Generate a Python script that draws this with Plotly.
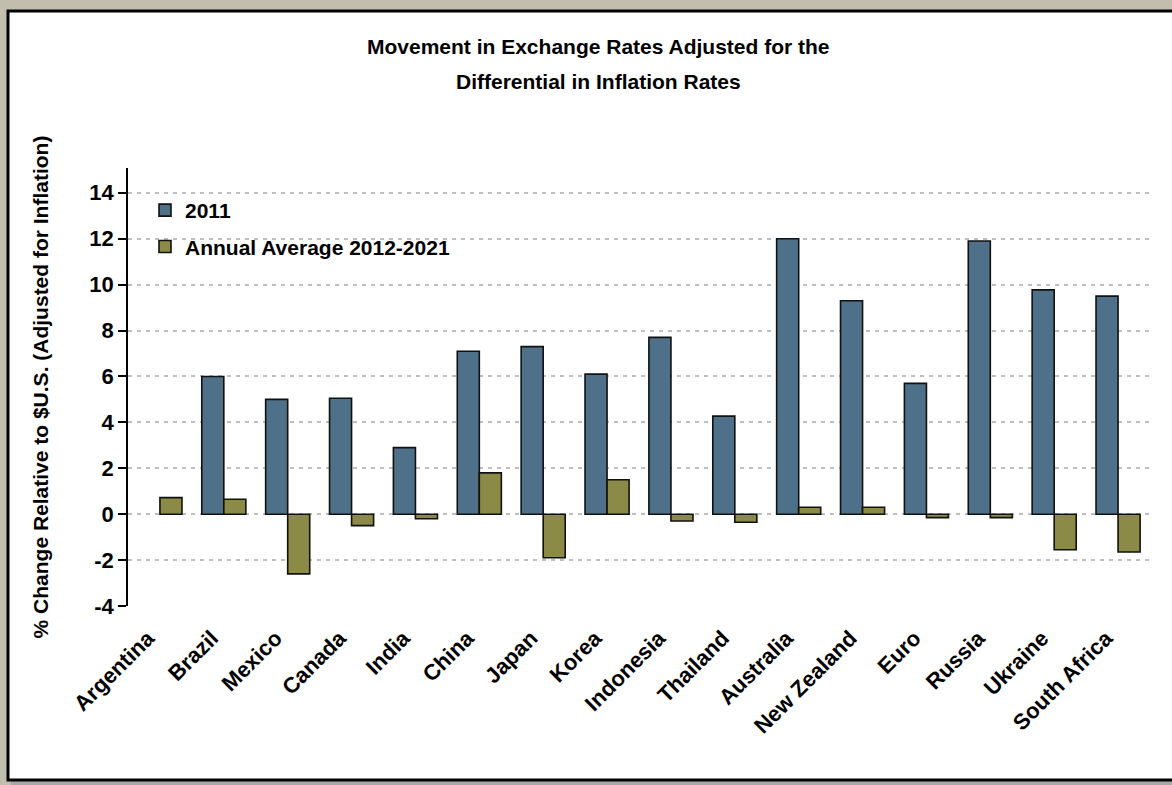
import plotly.graph_objects as go

# Currency list and the two series (percent change vs. USD, inflation adjusted)
countries = ["Argentina", "Brazil", "Mexico", "Canada", "India", "China", "Japan",
             "Korea", "Indonesia", "Thailand", "Australia", "New Zealand", "Euro",
             "Russia", "Ukraine", "South Africa"]
change_2011 = [None, 6.0, 5.0, 5.05, 2.9, 7.1, 7.3, 6.1, 7.7, 4.27, 12.0, 9.3, 5.7,
               11.9, 9.77, 9.5]
avg_2012_2021 = [0.72, 0.65, -2.6, -0.5, -0.2, 1.8, -1.9, 1.5, -0.3, -0.35, 0.3, 0.3,
                 -0.15, -0.15, -1.55, -1.65]
y_ticks = [-4, -2, 0, 2, 4, 6, 8, 10, 12, 14]
title_lines = ["Movement in Exchange Rates Adjusted for the",
               "Differential in Inflation Rates"]

W, H = 1172, 785
PLOT_L, PLOT_R, PLOT_T, PLOT_B = 128, 1150, 168, 606
Y_MIN, Y_MAX = -4, 15.08

BLUE = "#4E7189"
OLIVE = "#8C8A47"
FONT = "Liberation Sans, Arial, sans-serif"


def fx(px):
    """container pixel -> paper x"""
    return (px - PLOT_L) / (PLOT_R - PLOT_L)


def fy(py):
    """container pixel (from top) -> paper y"""
    return (PLOT_B - py) / (PLOT_B - PLOT_T)


fig = go.Figure()
fig.add_trace(go.Bar(
    x=countries, y=change_2011, name="<b>2011</b>", legendgroup="a",
    marker=dict(color=BLUE, line=dict(color="#111111", width=1.6)),
))
fig.add_trace(go.Bar(
    x=countries, y=avg_2012_2021, name="<b>Annual Average 2012-2021</b>", legendgroup="b",
    marker=dict(color=OLIVE, line=dict(color="#111111", width=1.6)),
))

# position of y = 0 within the plot area, used for the category axis line
zero_frac = (0 - Y_MIN) / (Y_MAX - Y_MIN)
n = len(countries)

fig.update_layout(
    width=W, height=H,
    margin=dict(l=PLOT_L, r=W - PLOT_R, t=PLOT_T, b=H - PLOT_B, pad=0),
    paper_bgcolor="#c2bead",
    plot_bgcolor="rgba(0,0,0,0)",
    barmode="group", bargap=0.31, bargroupgap=0,
    font=dict(family=FONT, color="black"),
    showlegend=True,
    legend=dict(
        x=fx(145), y=fy(190), xanchor="left", yanchor="top",
        bgcolor="rgba(0,0,0,0)", tracegroupgap=6,
        font=dict(size=21, family=FONT),
        traceorder="grouped",
    ),
    xaxis=dict(
        type="category", categoryorder="array", categoryarray=countries,
        range=[-0.5, n - 0.5],
        tickmode="array", tickvals=countries,
        ticktext=[f"<b>{c}</b>" for c in countries],
        showline=False, ticks="", showgrid=False, zeroline=False,
        tickangle=-45, tickfont=dict(size=22, family=FONT),
        ticklabelstandoff=14, ticklabelshift=-12,
    ),
    xaxis2=dict(
        overlaying="x", anchor="free", position=zero_frac,
        range=[-0.5, n - 0.5],
        tickmode="array", tickvals=[i + 0.5 for i in range(n)],
        showticklabels=False, ticks="outside", ticklen=8, tickwidth=1.5, tickcolor="black",
        showline=True, linecolor="black", linewidth=1.5,
        showgrid=False, zeroline=False,
    ),
    yaxis=dict(
        range=[Y_MIN, Y_MAX], tickmode="array", tickvals=y_ticks,
        ticktext=[f"<b>{v}</b>" for v in y_ticks],
        showline=True, linecolor="black", linewidth=1.5,
        ticks="outside", ticklen=8, tickwidth=1.5, tickcolor="black",
        showgrid=True, gridcolor="#bfbfbf", griddash="4px,5px", gridwidth=2,
        zeroline=False,
        tickfont=dict(size=22, family=FONT),
        title=dict(text="<b>% Change Relative to $U.S. (Adjusted for Inflation)</b>",
                   font=dict(size=21, family=FONT), standoff=35),
    ),
)

# two-line chart title
for text, cy in zip(title_lines, (47, 82)):
    fig.add_annotation(
        text=f"<b>{text}</b>", xref="paper", yref="paper",
        x=fx(598), y=fy(cy), xanchor="center", yanchor="middle",
        showarrow=False, font=dict(size=21, family=FONT),
    )

# white chart panel with a drop shadow on the textured backdrop
fig.add_shape(type="rect", xref="paper", yref="paper", layer="below",
              x0=fx(11), x1=fx(1180), y0=fy(785), y1=fy(15),
              fillcolor="#a8a8a8", line=dict(width=0))
fig.add_shape(type="rect", xref="paper", yref="paper", layer="below",
              x0=fx(8), x1=fx(1180), y0=fy(780), y1=fy(11),
              fillcolor="white", line=dict(color="black", width=3))

fig.write_html("out.html")
